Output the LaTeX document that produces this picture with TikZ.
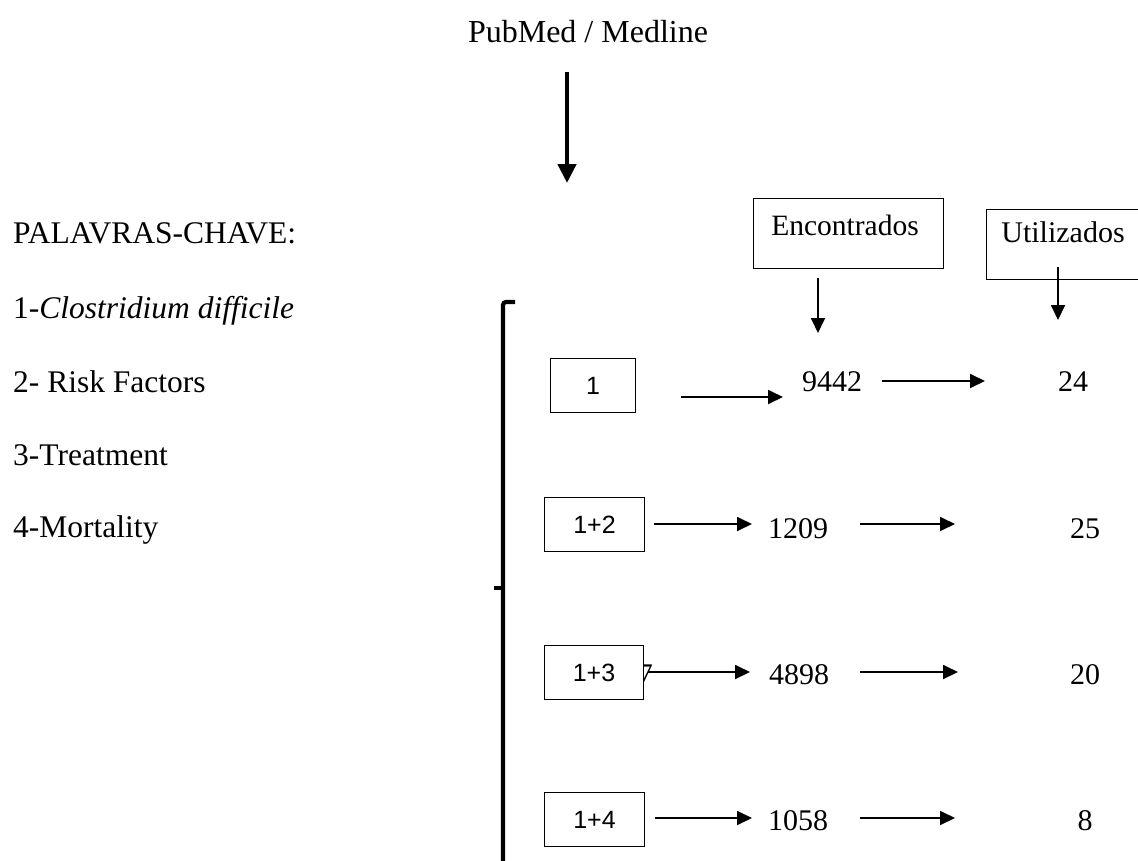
\documentclass[tikz,border=0pt]{standalone}
\usepackage{fontspec}
\setmainfont{Liberation Serif}
\newfontfamily\arialf{Liberation Sans}
\usetikzlibrary{arrows.meta}
\begin{document}
\begin{tikzpicture}[x=1pt,y=-1pt,
  txt/.style={font=\fontsize{30}{36}\selectfont, inner sep=0pt, anchor=base},
  kwtxt/.style={font=\fontsize{31.5}{38}\selectfont, inner sep=0pt, anchor=base west},
  hdrbox/.style={draw, line width=1.5pt, inner sep=0pt, anchor=north west},
  hdrtxt/.style={font=\fontsize{29.5}{34}\selectfont, inner sep=0pt, anchor=base},
  keybox/.style={draw, line width=1.3pt, fill=white, font=\arialf\fontsize{25}{29}\selectfont, minimum height=54pt, inner sep=0pt},
  arr/.style={line width=1.8pt, -{Triangle[length=15pt,width=14pt]}},
  bigarr/.style={line width=4.5pt, -{Triangle[length=19pt,width=18pt]}}
]
\useasboundingbox (0,0) rectangle (1138,860);
\clip (0,0) rectangle (1138,860);

% title
\node[font=\fontsize{32}{38}\selectfont, inner sep=0pt, anchor=base] (pub) at (588,42) {PubMed / Medline};
\coordinate (pubA) at (567,72);
\coordinate (pubB) at (567,183);
\draw[bigarr] (pubA) -- (pubB);

% keywords
\node[kwtxt] (kw)  at (13,243) {PALAVRAS-CHAVE:};
\node[kwtxt] (kw1) at (13,318) {1-\textit{Clostridium difficile}};
\node[kwtxt] (kw2) at (13,392) {2- Risk Factors};
\node[kwtxt] (kw3) at (13,465) {3-Treatment};
\node[kwtxt] (kw4) at (13,537) {4-Mortality};

% brace
\draw[line width=4.2pt, rounded corners=3pt] (515,302) -- (503,302) -- (503,870);
\draw[line width=4.2pt] (503,588) -- (494,588);

% headers
\node[hdrbox, minimum width=190pt, minimum height=70pt] (enc) at (752.5,197.5) {};
\node[hdrtxt] (enct) at (845,235) {Encontrados};
\node[hdrbox, minimum width=170pt, minimum height=70pt] (uti) at (985.5,208.5) {};
\node[hdrtxt, font=\fontsize{30}{36}\selectfont] (utit) at (1063,242) {Utilizados};
\coordinate (encA) at (818,278);
\coordinate (encB) at (818,333);
\coordinate (utiA) at (1058,267);
\coordinate (utiB) at (1058,320);
\draw[arr] (encA) -- (encB);
\draw[arr] (utiA) -- (utiB);

% row 1
\node[keybox, minimum width=85pt] (b1) at (593,385.5) {1};
\node[txt] (n1) at (832,391) {9442};
\node[txt] (u1) at (1073,391) {24};
\coordinate (r1a) at (681,397);
\coordinate (r1b) at (783,397);
\coordinate (r1c) at (882,381);
\coordinate (r1d) at (985,381);
\draw[arr] (r1a) -- (r1b);
\draw[arr] (r1c) -- (r1d);

% row 2
\node[keybox, minimum width=100pt] (b2) at (594.5,524.5) {1+2};
\node[txt] (n2) at (798,538) {1209};
\node[txt] (u2) at (1085,538) {25};
\coordinate (r2a) at (654,524);
\coordinate (r2b) at (752,524);
\coordinate (r2c) at (860,524);
\coordinate (r2d) at (955,524);
\draw[arr] (r2a) -- (r2b);
\draw[arr] (r2c) -- (r2d);

% row 3
\node[txt, anchor=base east] (seven) at (653,684) {7};
\node[keybox, minimum width=99pt] (b3) at (594,672.5) {1+3};
\node[txt] (n3) at (799,684) {4898};
\node[txt] (u3) at (1085,684) {20};
\coordinate (r3a) at (648,672);
\coordinate (r3b) at (750,672);
\coordinate (r3c) at (860,672);
\coordinate (r3d) at (958,672);
\draw[arr] (r3a) -- (r3b);
\draw[arr] (r3c) -- (r3d);

% row 4
\node[keybox, minimum width=100pt] (b4) at (594.5,819.5) {1+4};
\node[txt] (n4) at (798,830) {1058};
\node[txt] (u4) at (1085,830) {8};
\coordinate (r4a) at (655,818);
\coordinate (r4b) at (752,818);
\coordinate (r4c) at (860,818);
\coordinate (r4d) at (955,818);
\draw[arr] (r4a) -- (r4b);
\draw[arr] (r4c) -- (r4d);
\end{tikzpicture}
\end{document}
